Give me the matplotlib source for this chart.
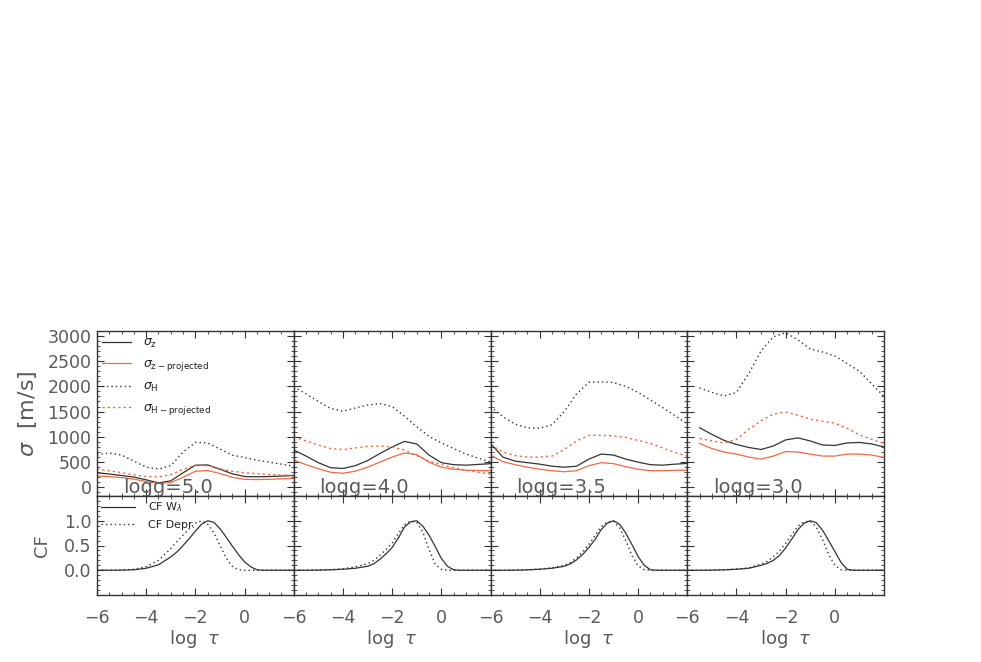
import matplotlib
matplotlib.use("Agg")
import matplotlib.pyplot as plt
from matplotlib.ticker import MultipleLocator, FixedLocator
import numpy as np

plt.rcParams['font.family'] = ['DejaVu Sans']
plt.rcParams['mathtext.fontset'] = 'dejavusans'

# ---------------- data ----------------
panel_titles = ["logg=5.0", "logg=4.0", "logg=3.5", "logg=3.0"]

x_sig = [-6, -5.5, -5, -4.5, -4, -3.5, -3, -2.5, -2, -1.5, -1, -0.5, 0, 0.5, 1, 1.5, 2]
x_sig4 = [-5.5, -5, -4.5, -4, -3.5, -3, -2.5, -2, -1.5, -1, -0.5, 0, 0.5, 1, 1.5, 2]

sz_50 = [290, 265, 235, 205, 150, 90, 130, 290, 440, 445, 360, 270, 215, 210, 215, 225, 235]
szp_50 = [225, 215, 195, 165, 115, 80, 95, 200, 320, 335, 275, 200, 160, 155, 160, 170, 180]
sh_50 = [650, 680, 640, 520, 400, 365, 430, 700, 890, 880, 760, 640, 590, 540, 500, 460, 420]
shp_50 = [360, 330, 290, 250, 215, 210, 250, 360, 435, 430, 370, 320, 290, 270, 255, 245, 240]

sz_40 = [740, 620, 490, 390, 375, 430, 530, 670, 800, 910, 860, 640, 490, 450, 440, 455, 470]
szp_40 = [540, 450, 370, 300, 280, 320, 400, 500, 600, 680, 650, 500, 400, 360, 340, 335, 330]
sh_40 = [1990, 1850, 1700, 1560, 1510, 1570, 1630, 1660, 1600, 1410, 1200, 1010, 880, 770, 660, 580, 505]
shp_40 = [1000, 920, 840, 770, 750, 780, 810, 820, 800, 740, 630, 520, 450, 390, 340, 300, 265]

sz_35 = [870, 600, 520, 490, 460, 420, 400, 420, 560, 660, 640, 560, 500, 450, 440, 460, 475]
szp_35 = [640, 510, 450, 400, 360, 330, 310, 330, 430, 490, 470, 410, 360, 330, 330, 338, 342]
sh_35 = [1600, 1400, 1250, 1180, 1170, 1240, 1500, 1850, 2080, 2090, 2075, 2000, 1880, 1730, 1580, 1420, 1260]
shp_35 = [840, 700, 630, 600, 600, 620, 750, 920, 1030, 1030, 1020, 990, 930, 870, 780, 690, 620]

sz_30 = [1180, 1050, 930, 850, 790, 750, 820, 940, 980, 920, 840, 830, 880, 890, 860, 800]
szp_30 = [870, 770, 700, 660, 600, 560, 620, 710, 700, 660, 620, 620, 660, 660, 640, 595]
sh_30 = [1970, 1880, 1810, 1880, 2250, 2700, 2980, 3060, 2920, 2740, 2680, 2600, 2450, 2300, 2050, 1800]
shp_30 = [970, 920, 880, 950, 1150, 1320, 1450, 1490, 1430, 1350, 1310, 1270, 1170, 1040, 950, 870]

x_cf = [-6, -5.5, -5, -4.5, -4, -3.5, -3, -2.75, -2.5, -2.25, -2, -1.75, -1.5, -1.25,
        -1, -0.75, -0.5, -0.25, 0, 0.25, 0.5, 0.75, 1, 1.5, 2]

cfw_50 = [0, 0, 0.002, 0.01, 0.04, 0.11, 0.27, 0.37, 0.5, 0.64, 0.79, 0.93, 1.0, 0.97,
          0.84, 0.67, 0.49, 0.32, 0.17, 0.07, 0.01, 0, 0, 0, 0]
cfd_50 = [0, 0, 0.003, 0.02, 0.07, 0.2, 0.44, 0.58, 0.71, 0.84, 0.95, 1.0, 0.93, 0.76,
          0.5, 0.25, 0.08, 0.01, 0, 0, 0, 0, 0, 0, 0]
cfw_40 = [0, 0, 0.003, 0.01, 0.02, 0.04, 0.08, 0.13, 0.22, 0.33, 0.46, 0.65, 0.87, 0.98,
          1.0, 0.89, 0.71, 0.48, 0.24, 0.08, 0.01, 0, 0, 0, 0]
cfd_40 = [0, 0, 0.004, 0.01, 0.03, 0.07, 0.13, 0.2, 0.3, 0.42, 0.55, 0.74, 0.92, 0.99,
          0.97, 0.77, 0.42, 0.12, 0.02, 0, 0, 0, 0, 0, 0]
cfw_35 = [0, 0, 0.002, 0.008, 0.02, 0.04, 0.08, 0.13, 0.21, 0.32, 0.46, 0.62, 0.82, 0.95,
          1.0, 0.93, 0.75, 0.52, 0.28, 0.1, 0.01, 0, 0, 0, 0]
cfd_35 = [0, 0, 0.003, 0.01, 0.025, 0.05, 0.1, 0.16, 0.25, 0.37, 0.52, 0.7, 0.88, 0.98,
          0.99, 0.86, 0.6, 0.3, 0.09, 0.01, 0, 0, 0, 0, 0]
cfw_30 = [0, 0, 0.002, 0.008, 0.02, 0.04, 0.1, 0.14, 0.2, 0.3, 0.45, 0.63, 0.82, 0.95,
          1.0, 0.96, 0.81, 0.6, 0.38, 0.16, 0.02, 0, 0, 0, 0]
cfd_30 = [0, 0, 0.003, 0.01, 0.025, 0.05, 0.12, 0.18, 0.27, 0.39, 0.54, 0.72, 0.89, 0.98,
          0.99, 0.87, 0.62, 0.32, 0.1, 0.01, 0, 0, 0, 0, 0]

sig_x = [x_sig, x_sig, x_sig, x_sig4]
sig_z = [sz_50, sz_40, sz_35, sz_30]
sig_zp = [szp_50, szp_40, szp_35, szp_30]
sig_h = [sh_50, sh_40, sh_35, sh_30]
sig_hp = [shp_50, shp_40, shp_35, shp_30]
cf_w = [cfw_50, cfw_40, cfw_35, cfw_30]
cf_d = [cfd_50, cfd_40, cfd_35, cfd_30]

legend_sig = [r'$\sigma_{\mathregular{z}}$', r'$\sigma_{\mathregular{z-projected}}$',
              r'$\sigma_{\mathregular{H}}$', r'$\sigma_{\mathregular{H-projected}}$']
legend_cf = [r'CF W$_{\lambda}$', 'CF Depr.']

# ---------------- style ----------------
BLACK = '#333333'
RED = '#EE6A45'
TXT = '#5a5a5a'
SPINE = '#333333'
DOT = (0, (1, 2.2))
RDOT = (0, (1.6, 2.2))

W, H = 981, 662
fig = plt.figure(figsize=(W / 100, H / 100), dpi=100)

left = 97 / W
pw = (884 - 97) / 4 / W
top_b = 1 - 496 / H
top_h = (496 - 331) / H
bot_b = 1 - 595 / H
bot_h = (595 - 496) / H


def style_axes(ax):
    for s in ax.spines.values():
        s.set_color(SPINE)
        s.set_linewidth(1.0)
    ax.tick_params(which='both', direction='in', top=True, right=True,
                   color=SPINE, labelcolor=TXT, labelsize=12.5)
    ax.tick_params(which='major', length=5, width=0.8)
    ax.tick_params(which='minor', length=2.5, width=0.6)


for i in range(4):
    # sigma panel
    ax = fig.add_axes([left + i * pw, top_b, pw, top_h])
    l1, = ax.plot(sig_x[i], sig_z[i], color=BLACK, lw=0.9)
    l2, = ax.plot(sig_x[i], sig_zp[i], color=RED, lw=0.9)
    l3, = ax.plot(sig_x[i], sig_h[i], color=BLACK, lw=1.0, ls=DOT)
    l4, = ax.plot(sig_x[i], sig_hp[i], color=RED, lw=1.0, ls=RDOT)
    ax.set_xlim(-6, 2)
    ax.set_ylim(-170, 3095)
    ax.xaxis.set_major_locator(FixedLocator([-6, -4, -2, 0]))
    ax.xaxis.set_minor_locator(MultipleLocator(0.5))
    ax.yaxis.set_major_locator(MultipleLocator(500))
    ax.yaxis.set_minor_locator(MultipleLocator(100))
    style_axes(ax)
    ax.tick_params(axis='x', labelbottom=False)
    ax.tick_params(axis='y', pad=4)
    if i > 0:
        ax.tick_params(axis='y', labelleft=False)
    else:
        ax.set_ylabel(r'$\sigma$  [m/s]', fontsize=16, color=TXT, labelpad=6)
        leg = ax.legend([l1, l2, l3, l4], legend_sig, loc='upper left',
                        bbox_to_anchor=(0.0, 1.0), frameon=False, fontsize=9,
                        handlelength=2.3, handletextpad=1.0, labelspacing=0.55,
                        borderaxespad=0.15, borderpad=0.25)
        for t in leg.get_texts():
            t.set_color('#222222')
    ax.text(-4.95, -120, panel_titles[i], fontsize=14, color=TXT,
            ha='left', va='baseline', clip_on=True)

    # CF panel
    bx = fig.add_axes([left + i * pw, bot_b, pw, bot_h])
    m1, = bx.plot(x_cf, cf_w[i], color=BLACK, lw=0.9)
    m2, = bx.plot(x_cf, cf_d[i], color=BLACK, lw=1.0, ls=DOT)
    bx.set_xlim(-6, 2)
    bx.set_ylim(-0.5, 1.5)
    bx.xaxis.set_major_locator(FixedLocator([-6, -4, -2, 0]))
    bx.xaxis.set_minor_locator(MultipleLocator(0.5))
    bx.yaxis.set_major_locator(FixedLocator([0.0, 0.5, 1.0]))
    bx.yaxis.set_minor_locator(MultipleLocator(0.1))
    style_axes(bx)
    bx.tick_params(axis='x', pad=10)
    bx.tick_params(axis='y', pad=4)
    bx.xaxis.set_major_formatter(plt.FuncFormatter(lambda v, p: f"\u2212{abs(int(v))}" if v < 0 else f"{int(v)}"))
    bx.set_xlabel(r'log  $\tau$', fontsize=13, color=TXT, labelpad=1)
    if i > 0:
        bx.tick_params(axis='y', labelleft=False)
    else:
        bx.yaxis.set_major_formatter(plt.FuncFormatter(lambda v, p: f"{v:.1f}"))
        bx.set_ylabel('CF', fontsize=13, color=TXT, labelpad=9)
        leg2 = bx.legend([m1, m2], legend_cf, loc='upper left',
                         bbox_to_anchor=(0.0, 1.0), frameon=False, fontsize=8,
                         handlelength=3.0, handletextpad=1.2, labelspacing=0.5,
                         borderaxespad=0.15, borderpad=0.25)
        for t in leg2.get_texts():
            t.set_color('#222222')

fig.savefig('out.png', dpi=100)
